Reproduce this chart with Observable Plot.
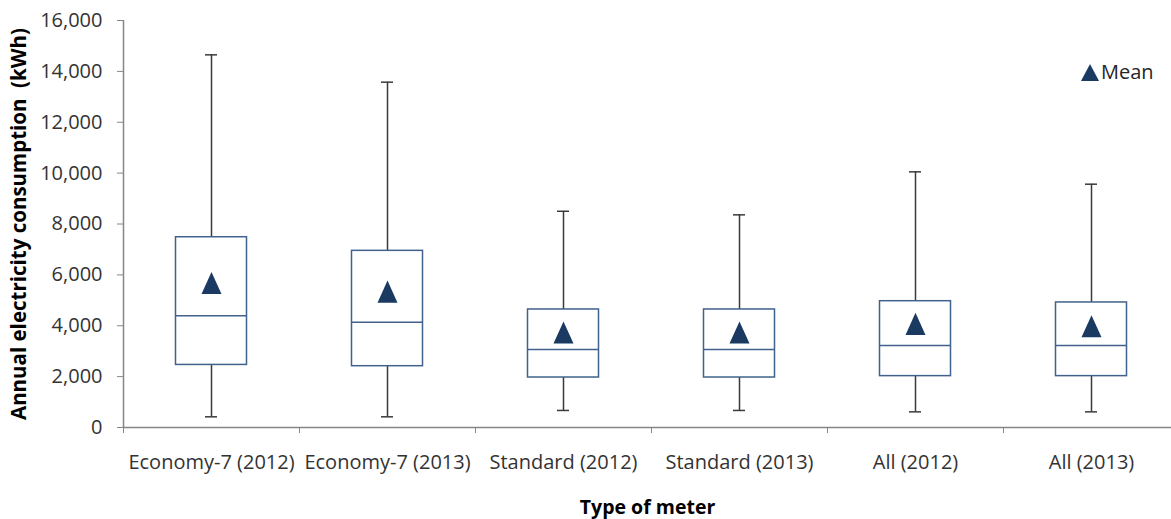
<!DOCTYPE html>
<html>
<head>
<meta charset="utf-8">
<script src="https://cdn.jsdelivr.net/npm/d3@7"></script>
<script src="https://cdn.jsdelivr.net/npm/@observablehq/plot@0.6"></script>
<style>
  html, body { margin: 0; padding: 0; background: #fff; }
  #wrap { position: relative; width: 1171px; height: 519px; overflow: hidden; }
  #legend { position: absolute; left: 1080px; top: 58px; display: flex; align-items: center;
            font-family: "Open Sans", sans-serif; font-size: 20px; color: #262626; }
  #legend svg { margin-right: 1px; }
</style>
</head>
<body>
<div id="wrap">
  <div id="chart"></div>
  <div id="legend"><svg width="20" height="20" viewBox="0 0 20 20"><path d="M10,2L19,19L1,19Z" fill="#1a3a62"/></svg><span>Mean</span></div>
</div>
<script>
const categories = ["Economy-7 (2012)", "Economy-7 (2013)", "Standard (2012)", "Standard (2013)", "All (2012)", "All (2013)"];
const whiskerLow  = [420, 420, 670, 670, 615, 615];
const q1          = [2460, 2410, 1965, 1965, 2020, 2020];
const median      = [4390, 4140, 3065, 3065, 3225, 3225];
const q3          = [7480, 6945, 4640, 4640, 4965, 4915];
const whiskerHigh = [14650, 13575, 8500, 8360, 10050, 9565];
const mean        = [5680, 5345, 3735, 3735, 4070, 3980];
const yTicks = [0, 2000, 4000, 6000, 8000, 10000, 12000, 14000, 16000];

const rows = categories.map((c, i) => ({
  cat: c, low: whiskerLow[i], q1: q1[i], med: median[i], q3: q3[i], high: whiskerHigh[i], mean: mean[i]
}));

const xRange = [123, 1179];
const bw = (xRange[1] - xRange[0]) / categories.length;
const boxW = 71, capW = 12;
const boxInset = (bw - boxW) / 2, capInset = (bw - capW) / 2;

const triangle = {
  draw(ctx, size) {
    const r = Math.sqrt(size / Math.PI);
    const hw = r * 1.35, hh = r * 1.5;
    ctx.moveTo(0, -hh);
    ctx.lineTo(hw, hh);
    ctx.lineTo(-hw, hh);
    ctx.closePath();
  }
};

const axisGray = "#868686";
const textColor = "#333333";
const boxColor = "#41628c";
const whiskerColor = "#3a3a3a";

const chart = Plot.plot({
  width: 1171,
  height: 519,
  marginLeft: 123,
  marginRight: 0,
  marginTop: 20,
  marginBottom: 92,
  style: { fontFamily: "'Open Sans', sans-serif", fontSize: "20px", background: "#fff", overflow: "hidden" },
  x: { type: "band", domain: categories, range: xRange, padding: 0 },
  y: { domain: [0, 16000] },
  marks: [
    // axis lines
    Plot.ruleY([0], { stroke: axisGray, strokeWidth: 1.5 }),
    Plot.ruleX([categories[0]], { dx: -bw / 2, y1: 0, y2: 16000, stroke: axisGray, strokeWidth: 1.5 }),
    // y axis ticks & labels
    Plot.axisY({ ticks: yTicks, tickSize: 6, tickPadding: 15, tickFormat: d3.format(","),
                 stroke: axisGray, fill: textColor, fontSize: 20, label: null }),
    Plot.axisY({ ticks: [], label: "Annual electricity consumption  (kWh)", labelAnchor: "center", labelArrow: "none",
                 labelOffset: 112, dy: 3, fontWeight: "bold", fontSize: 20.5, fill: "#000" }),
    // x axis boundary ticks
    Plot.axisX({ ticks: categories, tickSize: 6, dx: -bw / 2, tickFormat: () => "", stroke: axisGray, label: null }),
    // x axis labels
    Plot.axisX({ ticks: categories, tickSize: 0, tickPadding: 27, fill: textColor, fontSize: 20, label: null }),
    Plot.axisX({ ticks: [], label: "Type of meter", labelAnchor: "center", labelArrow: "none", labelOffset: 86, dx: -18,
                 fontWeight: "bold", fontSize: 19.5, fill: "#000" }),
    // whiskers
    Plot.ruleX(rows, { x: "cat", y1: "low", y2: "high", stroke: whiskerColor, strokeWidth: 1.5 }),
    Plot.tickY(rows, { x: "cat", y: "low", insetLeft: capInset, insetRight: capInset, stroke: whiskerColor, strokeWidth: 1.5 }),
    Plot.tickY(rows, { x: "cat", y: "high", insetLeft: capInset, insetRight: capInset, stroke: whiskerColor, strokeWidth: 1.5 }),
    // boxes
    Plot.rectY(rows, { x: "cat", y1: "q1", y2: "q3", fill: "#fff", stroke: boxColor, strokeWidth: 1.5,
                       insetLeft: boxInset, insetRight: boxInset }),
    Plot.tickY(rows, { x: "cat", y: "med", insetLeft: boxInset, insetRight: boxInset, stroke: boxColor, strokeWidth: 1.5 }),
    // means
    Plot.dot(rows, { x: "cat", y: "mean", symbol: triangle, r: 7.4, fill: "#1a3a62", stroke: "none" })
  ]
});
document.getElementById("chart").appendChild(chart);
</script>
</body>
</html>
